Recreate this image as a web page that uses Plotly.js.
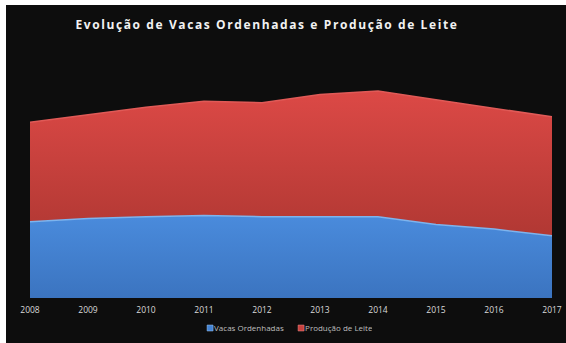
<!DOCTYPE html>
<html>
<head>
<meta charset="utf-8">
<script src="https://cdn.plot.ly/plotly-3.0.1.min.js"></script>
<style>
  html, body { margin: 0; padding: 0; background: #ffffff; width: 566px; height: 343px; overflow: hidden; }
  #chart { position: absolute; left: 6px; top: 5px; width: 560px; height: 338px; }
  .gtitle { letter-spacing: 1.6px; }
  .legendtext { transform: translateX(-16px); }
</style>
</head>
<body>
<div id="chart"></div>
<script>
// Anos
const years = ['2008','2009','2010','2011','2012','2013','2014','2015','2016','2017'];
// Vacas ordenhadas (milhões de cabeças)
const vacasOrdenhadas = [21.5, 22.4, 22.9, 23.2, 22.9, 23.0, 22.9, 20.7, 19.4, 17.5];
// Produção de leite (bilhões de litros)
const producaoLeite = [28.0, 29.1, 30.8, 32.2, 32.1, 34.3, 35.4, 35.1, 34.1, 33.5];

const seriesNames = ['Vacas Ordenhadas', 'Produção de Leite'];
const chartTitle = 'Evolução de Vacas Ordenhadas e Produção de Leite';

const traces = [
  {
    x: years, y: vacasOrdenhadas, name: seriesNames[0],
    type: 'scatter', mode: 'lines', stackgroup: 'one',
    line: { color: '#7db4ee', width: 1.5 },
    fillcolor: '#4383d4',
    fillgradient: { type: 'vertical', colorscale: [[0, '#3b74c0'], [1, '#4a8bdc']] },
    showlegend: false, hoverinfo: 'skip'
  },
  {
    x: years, y: producaoLeite, name: seriesNames[1],
    type: 'scatter', mode: 'lines', stackgroup: 'one',
    line: { color: '#e05a57', width: 1.5 },
    fillcolor: '#c8413e',
    fillgradient: { type: 'vertical', colorscale: [[0, '#b13833'], [1, '#dc4946']] },
    showlegend: false, hoverinfo: 'skip'
  },
  {
    x: [null], y: [null], name: seriesNames[0], type: 'scatter', mode: 'markers',
    marker: { symbol: 'square', size: 6, color: '#4383d4', line: { color: '#9cc6f2', width: 0.5 } },
    showlegend: true
  },
  {
    x: [null], y: [null], name: seriesNames[1], type: 'scatter', mode: 'markers',
    marker: { symbol: 'square', size: 6, color: '#c8413e', line: { color: '#ee8a88', width: 0.5 } },
    showlegend: true
  }
];

const layout = {
  width: 560, height: 338,
  paper_bgcolor: '#0d0d0d',
  plot_bgcolor: 'rgba(0,0,0,0)',
  margin: { l: 24, r: 14, t: 55, b: 45, autoexpand: false },
  title: {
    text: '<b>' + chartTitle + '</b>',
    font: { family: 'Open Sans, sans-serif', size: 12, color: '#f2f2f2' },
    x: 0.466, xref: 'container', xanchor: 'center',
    y: 1 - 20 / 338, yref: 'container', yanchor: 'middle'
  },
  xaxis: {
    type: 'category',
    range: [0, 9],
    showgrid: false, zeroline: false, showline: false,
    ticks: '', ticklabelstandoff: 5,
    tickfont: { family: 'Open Sans, sans-serif', size: 8.5, color: '#d9d9d9' },
    fixedrange: true
  },
  yaxis: {
    range: [0, 67],
    visible: false, showgrid: false, zeroline: false,
    fixedrange: true
  },
  showlegend: true,
  legend: {
    orientation: 'h', x: 0.481, xanchor: 'center',
    yref: 'container', y: 1 - 323 / 338, yanchor: 'middle',
    font: { family: 'Open Sans, sans-serif', size: 8, color: '#bfbfbf' },
    bgcolor: 'rgba(0,0,0,0)', itemwidth: 30, traceorder: 'normal',
    entrywidth: 46, entrywidthmode: 'pixels'
  }
};

Plotly.newPlot('chart', traces, layout, { displayModeBar: false, staticPlot: true });
</script>
</body>
</html>
